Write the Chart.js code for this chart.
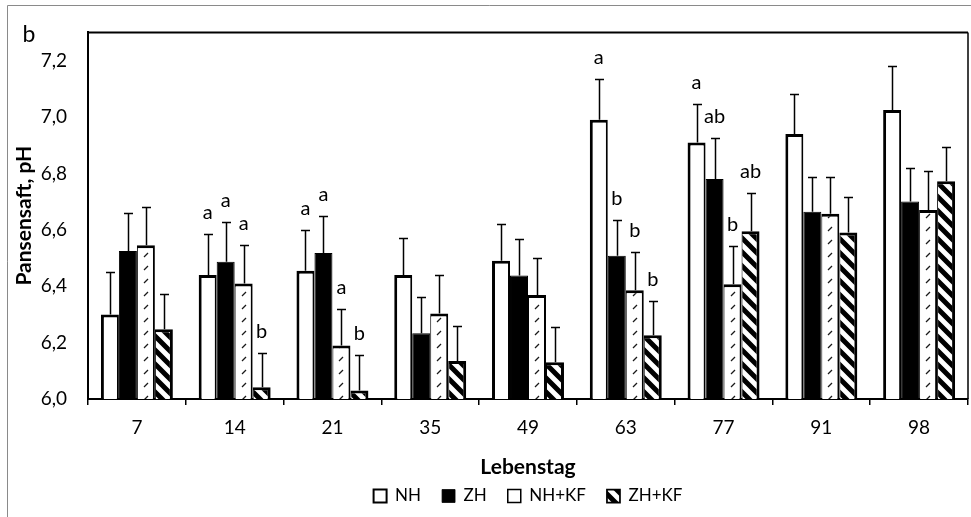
<!DOCTYPE html>
<html>
<head>
<meta charset="utf-8">
<script src="https://cdn.jsdelivr.net/npm/chart.js@4.4.1/dist/chart.umd.min.js"></script>
<style>
  html, body { margin: 0; padding: 0; background: #fff; }
  #wrap { width: 971px; height: 517px; }
</style>
</head>
<body>
<div id="wrap"><canvas id="chart" width="971" height="517"></canvas></div>
<script>
// Lebenstag (day of life)
const days = ["7", "14", "21", "35", "49", "63", "77", "91", "98"];

// mean rumen pH per group
const nh   = [6.30, 6.44, 6.455, 6.44, 6.49, 6.99, 6.91, 6.94, 7.025];
const zh   = [6.525, 6.487, 6.518, 6.233, 6.438, 6.508, 6.78, 6.664, 6.70];
const nhkf = [6.545, 6.41, 6.19, 6.303, 6.369, 6.386, 6.407, 6.657, 6.67];
const zhkf = [6.247, 6.042, 6.03, 6.135, 6.13, 6.226, 6.595, 6.59, 6.772];

// upper error bar length
const nhErr   = [0.15, 0.145, 0.145, 0.13, 0.13, 0.145, 0.135, 0.14, 0.155];
const zhErr   = [0.135, 0.14, 0.13, 0.13, 0.13, 0.125, 0.145, 0.125, 0.12];
const nhkfErr = [0.135, 0.135, 0.13, 0.135, 0.13, 0.135, 0.135, 0.13, 0.14];
const zhkfErr = [0.125, 0.12, 0.125, 0.125, 0.125, 0.12, 0.135, 0.125, 0.12];

// significance letters
const nhLet   = ["", "a", "a", "", "", "a", "a", "", ""];
const zhLet   = ["", "a", "a", "", "", "b", "ab", "", ""];
const nhkfLet = ["", "a", "a", "", "", "b", "b", "", ""];
const zhkfLet = ["", "b", "b", "", "", "b", "ab", "", ""];

const yTicks = [6.0, 6.2, 6.4, 6.6, 6.8, 7.0, 7.2];

const CAT_PCT = 0.736;

Chart.defaults.font.family = "Lato";
Chart.defaults.color = "#000";

// small "/" dashes on white
function dashTile() {
  const c = document.createElement("canvas");
  c.width = 18; c.height = 13;
  const g = c.getContext("2d");
  g.fillStyle = "#fff";
  g.fillRect(0, 0, 18, 13);
  g.strokeStyle = "#1a1a1a";
  g.lineWidth = 1.3;
  g.beginPath();
  g.moveTo(7, 10);
  g.lineTo(11, 6);
  g.stroke();
  return c;
}

// wide "\" stripes
function stripeTile() {
  const c = document.createElement("canvas");
  c.width = 14; c.height = 14;
  const g = c.getContext("2d");
  g.fillStyle = "#fff";
  g.fillRect(0, 0, 14, 14);
  g.strokeStyle = "#000";
  g.lineWidth = 5;
  g.beginPath();
  for (const k of [-14, 0, 14]) {
    g.moveTo(-2, k - 2);
    g.lineTo(16, k + 16);
  }
  g.stroke();
  return c;
}

const tiles = { dash: dashTile(), stripe: stripeTile() };
const ctx = document.getElementById("chart").getContext("2d");

function patternFor(name) {
  return (c) => {
    const p = ctx.createPattern(tiles[name], "repeat");
    if (c.type === "data") {
      const xs = c.chart.scales.x;
      if (xs && xs.width) {
        const catW = xs.width / days.length;
        const barW = catW * CAT_PCT / 4;
        const left = xs.getPixelForValue(c.dataIndex) - catW * CAT_PCT / 2 + c.datasetIndex * barW;
        p.setTransform(new DOMMatrix().translate(Math.round(left), 0));
      }
    }
    return p;
  };
}

const extras = {
  id: "extras",
  afterDatasetsDraw(chart) {
    const g = chart.ctx;
    const y = chart.scales.y;
    g.save();
    g.strokeStyle = "#000";
    g.fillStyle = "#000";
    g.lineWidth = 1.5;
    g.font = "20px Lato";
    g.textAlign = "center";
    g.textBaseline = "middle";
    chart.data.datasets.forEach((ds, i) => {
      chart.getDatasetMeta(i).data.forEach((bar, j) => {
        const x = Math.round(bar.x) + 0.5;
        const yb = y.getPixelForValue(ds.data[j]);
        const yt = Math.round(y.getPixelForValue(ds.data[j] + ds.err[j])) + 0.5;
        g.beginPath();
        g.moveTo(x, yb);
        g.lineTo(x, yt);
        g.moveTo(x - 4.5, yt);
        g.lineTo(x + 4.5, yt);
        g.stroke();
        if (ds.letters[j]) g.fillText(ds.letters[j], bar.x, yt - 22);
      });
    });
    g.restore();
  },
  afterDraw(chart) {
    const g = chart.ctx;
    const a = chart.chartArea;
    g.save();
    // plot frame top and right
    g.strokeStyle = "#000";
    g.lineWidth = 2;
    g.beginPath();
    g.moveTo(a.left, a.top);
    g.lineTo(a.right, a.top);
    g.stroke();
    g.lineWidth = 1.5;
    g.beginPath();
    g.moveTo(a.right, a.top);
    g.lineTo(a.right, a.bottom);
    g.stroke();
    // outer chart border
    g.strokeStyle = "#8a8a8a";
    g.lineWidth = 1;
    g.beginPath();
    g.moveTo(7.5, chart.height);
    g.lineTo(7.5, 5.5);
    g.lineTo(chart.width, 5.5);
    g.stroke();
    // panel letter
    g.fillStyle = "#000";
    g.font = "23px Lato";
    g.textAlign = "center";
    g.textBaseline = "middle";
    g.fillText("b", 29, 35);
    g.restore();
  }
};

new Chart(ctx, {
  type: "bar",
  data: {
    labels: days,
    datasets: [
      { label: "NH", data: nh, err: nhErr, letters: nhLet,
        backgroundColor: "#fff", borderColor: "#000",
        borderWidth: { top: 3, left: 3, right: 2, bottom: 0 } },
      { label: "ZH", data: zh, err: zhErr, letters: zhLet,
        backgroundColor: "#000", borderColor: "#000",
        borderWidth: { top: 1, left: 1, right: 1, bottom: 0 } },
      { label: "NH+KF", data: nhkf, err: nhkfErr, letters: nhkfLet,
        backgroundColor: patternFor("dash"), borderColor: "#000",
        borderWidth: { top: 3, left: 1, right: 2, bottom: 0 } },
      { label: "ZH+KF", data: zhkf, err: zhkfErr, letters: zhkfLet,
        backgroundColor: patternFor("stripe"), borderColor: "#000",
        borderWidth: { top: 3, left: 1, right: 3, bottom: 0 } }
    ]
  },
  options: {
    responsive: false,
    animation: false,
    layout: { padding: { left: 0, top: 25, right: 3, bottom: 2.5 } },
    datasets: {
      bar: { categoryPercentage: CAT_PCT, barPercentage: 1 }
    },
    scales: {
      x: {
        offset: true,
        grid: {
          offset: true, drawOnChartArea: false, drawTicks: true,
          tickLength: 6, color: "#000", lineWidth: 1.5
        },
        border: { display: true, color: "#000", width: 2 },
        ticks: { padding: 11, font: { size: 19 } },
        title: {
          display: true, text: "Lebenstag",
          font: { size: 21, weight: "bold" },
          padding: { top: 0, bottom: -13 }
        },
        afterFit: (s) => { s.height = 67.5; }
      },
      y: {
        min: 6.0,
        max: 7.3,
        grid: { display: false, drawTicks: false },
        border: { display: true, color: "#000", width: 2 },
        ticks: {
          stepSize: 0.2,
          padding: 21,
          font: { size: 19 },
          callback: (v) => v.toFixed(1).replace(".", ",")
        },
        afterBuildTicks: (s) => {
          s.ticks = yTicks.map((v) => ({ value: v }));
        },
        title: {
          display: true, text: "Pansensaft, pH",
          font: { size: 21, weight: "bold" },
          padding: { top: 12, bottom: 0 }
        },
        afterFit: (s) => { s.width = 88; }
      }
    },
    plugins: {
      legend: {
        position: "bottom",
        fullSize: false,
        labels: {
          boxWidth: 13, boxHeight: 13, padding: 21,
          font: { size: 17 }, color: "#000"
        }
      },
      tooltip: { enabled: false }
    }
  },
  plugins: [extras]
});
</script>
</body>
</html>
